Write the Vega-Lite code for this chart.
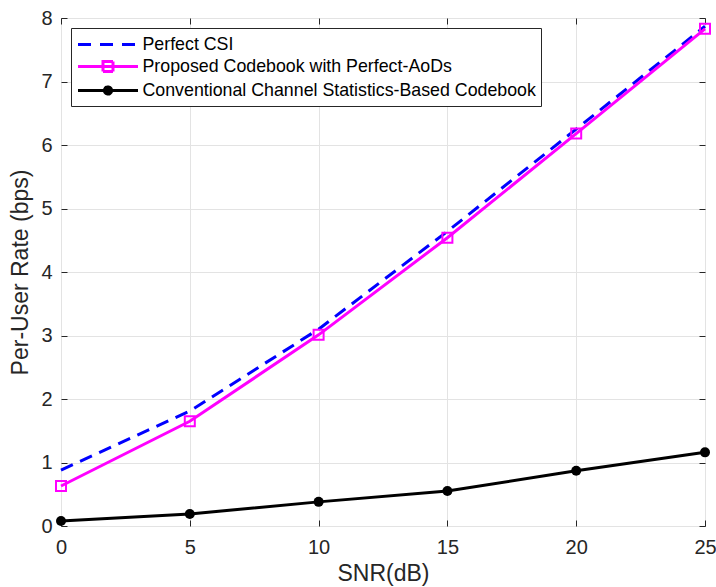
{
  "$schema": "https://vega.github.io/schema/vega-lite/v6.json",
  "width": 644,
  "height": 508,
  "autosize": {"type": "none"},
  "padding": {"left": 61, "top": 18, "right": 11, "bottom": 61},
  "background": "white",
  "config": {
    "font": "Liberation Sans",
    "view": {"stroke": "#262626", "strokeWidth": 1},
    "axis": {
      "domain": false,
      "grid": true,
      "gridColor": "#e3e3e3",
      "gridWidth": 1,
      "tickColor": "#262626",
      "tickSize": -6,
      "labelFlush": false,
      "labelFont": "Liberation Sans",
      "labelFontSize": 20,
      "labelColor": "#262626",
      "titleFont": "Liberation Sans",
      "titleFontSize": 23,
      "titleFontWeight": "normal",
      "titleColor": "#262626"
    }
  },
  "data": {
    "values": [
      {"snr": 0, "rate": 0.88, "series": "Perfect CSI"},
      {"snr": 5, "rate": 1.81, "series": "Perfect CSI"},
      {"snr": 10, "rate": 3.1, "series": "Perfect CSI"},
      {"snr": 15, "rate": 4.64, "series": "Perfect CSI"},
      {"snr": 20, "rate": 6.25, "series": "Perfect CSI"},
      {"snr": 25, "rate": 7.87, "series": "Perfect CSI"},
      {"snr": 0, "rate": 0.63, "series": "Proposed Codebook with Perfect-AoDs"},
      {"snr": 5, "rate": 1.65, "series": "Proposed Codebook with Perfect-AoDs"},
      {"snr": 10, "rate": 3.01, "series": "Proposed Codebook with Perfect-AoDs"},
      {"snr": 15, "rate": 4.54, "series": "Proposed Codebook with Perfect-AoDs"},
      {"snr": 20, "rate": 6.18, "series": "Proposed Codebook with Perfect-AoDs"},
      {"snr": 25, "rate": 7.83, "series": "Proposed Codebook with Perfect-AoDs"},
      {"snr": 0, "rate": 0.08, "series": "Conventional Channel Statistics-Based Codebook"},
      {"snr": 5, "rate": 0.19, "series": "Conventional Channel Statistics-Based Codebook"},
      {"snr": 10, "rate": 0.38, "series": "Conventional Channel Statistics-Based Codebook"},
      {"snr": 15, "rate": 0.55, "series": "Conventional Channel Statistics-Based Codebook"},
      {"snr": 20, "rate": 0.87, "series": "Conventional Channel Statistics-Based Codebook"},
      {"snr": 25, "rate": 1.16, "series": "Conventional Channel Statistics-Based Codebook"}
    ]
  },
  "layer": [
    {
      "encoding": {
        "x": {
          "field": "snr", "type": "quantitative",
          "scale": {"domain": [0, 25], "nice": false},
          "axis": {"title": "SNR(dB)", "values": [0, 5, 10, 15, 20, 25], "labelPadding": 17, "titlePadding": 5}
        },
        "y": {
          "field": "rate", "type": "quantitative",
          "scale": {"domain": [0, 8], "nice": false},
          "axis": {"title": "Per-User Rate (bps)", "values": [0, 1, 2, 3, 4, 5, 6, 7, 8], "labelPadding": 15, "titlePadding": 8}
        }
      },
      "layer": [
        {
          "transform": [{"filter": "datum.series == 'Perfect CSI'"}],
          "mark": {"type": "line", "color": "#0000ff", "strokeWidth": 3, "strokeDash": [13, 8]}
        },
        {
          "transform": [{"filter": "datum.series == 'Proposed Codebook with Perfect-AoDs'"}],
          "mark": {"type": "line", "color": "#ff00ff", "strokeWidth": 3}
        },
        {
          "transform": [{"filter": "datum.series == 'Proposed Codebook with Perfect-AoDs'"}],
          "mark": {"type": "point", "shape": "square", "filled": false, "color": "#ff00ff", "strokeWidth": 2, "size": 100, "opacity": 1}
        },
        {
          "transform": [{"filter": "datum.series == 'Conventional Channel Statistics-Based Codebook'"}],
          "mark": {"type": "line", "color": "#000000", "strokeWidth": 3}
        },
        {
          "transform": [{"filter": "datum.series == 'Conventional Channel Statistics-Based Codebook'"}],
          "mark": {"type": "point", "shape": "circle", "filled": true, "color": "#000000", "size": 100, "opacity": 1}
        }
      ]
    },
    {
      "mark": {"type": "point", "opacity": 0, "filled": false},
      "encoding": {
        "x": {
          "field": "snr", "type": "quantitative",
          "scale": {"domain": [0, 25], "nice": false},
          "axis": {"orient": "top", "title": null, "labels": false, "grid": false, "values": [0, 5, 10, 15, 20, 25]}
        },
        "y": {
          "field": "rate", "type": "quantitative",
          "scale": {"domain": [0, 8], "nice": false},
          "axis": {"orient": "right", "title": null, "labels": false, "grid": false, "values": [0, 1, 2, 3, 4, 5, 6, 7, 8]}
        },
        "stroke": {
          "field": "series", "type": "nominal",
          "scale": {
            "domain": ["Perfect CSI", "Proposed Codebook with Perfect-AoDs", "Conventional Channel Statistics-Based Codebook"],
            "range": ["#0000ff", "#ff00ff", "#000000"]
          },
          "legend": {
            "title": null, "orient": "none", "legendX": 10, "legendY": 10,
            "strokeColor": "#262626", "fillColor": "white", "padding": 5,
            "symbolSize": 400, "symbolStrokeWidth": 3, "symbolOpacity": 1,
            "symbolOffset": 20.5, "labelOffset": 23, "rowPadding": 1,
            "labelFont": "Liberation Sans", "labelFontSize": 17.8, "labelColor": "#000000", "labelLimit": 0
          }
        },
        "shape": {
          "field": "series", "type": "nominal",
          "scale": {
            "domain": ["Perfect CSI", "Proposed Codebook with Perfect-AoDs", "Conventional Channel Statistics-Based Codebook"],
            "range": [
              "M-3,0H3",
              "M-3,0H3M-0.5,-0.5H0.5V0.5H-0.5Z",
              "M-3,0H3M-0.36,0A0.36,0.36,0,1,0,0.36,0A0.36,0.36,0,1,0,-0.36,0ZM-0.13,0A0.13,0.13,0,1,0,0.13,0A0.13,0.13,0,1,0,-0.13,0Z"
            ]
          }
        },
        "strokeDash": {
          "field": "series", "type": "nominal",
          "scale": {
            "domain": ["Perfect CSI", "Proposed Codebook with Perfect-AoDs", "Conventional Channel Statistics-Based Codebook"],
            "range": [[13, 9], [1, 0], [1, 0]]
          }
        }
      }
    }
  ],
  "resolve": {"axis": {"x": "independent", "y": "independent"}}
}
